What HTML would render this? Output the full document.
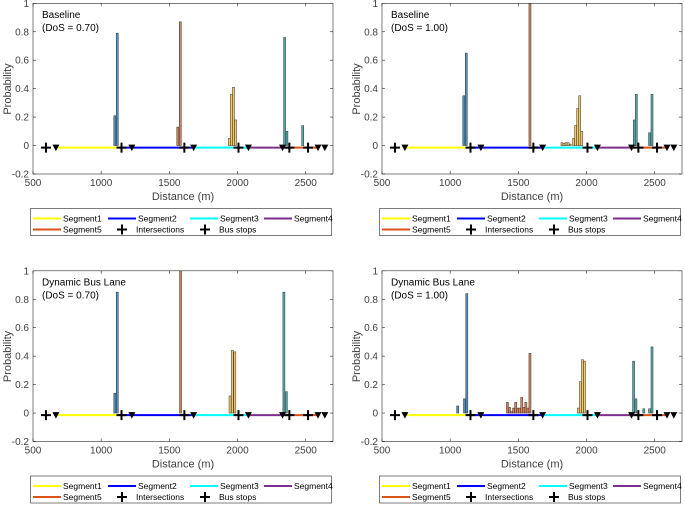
<!DOCTYPE html>
<html><head><meta charset="utf-8"><style>
html,body{margin:0;padding:0;background:#fff;}
svg{display:block;font-family:"Liberation Sans",Arial,sans-serif;}
</style></head><body>
<svg id="chart" width="685" height="506" viewBox="0 0 685 506"></svg>
<script>
const panelTitles = [["Baseline","(DoS = 0.70)"],["Baseline","(DoS = 1.00)"],["Dynamic Bus Lane","(DoS = 0.70)"],["Dynamic Bus Lane","(DoS = 1.00)"]];
const xTicks = [500,1000,1500,2000,2500];
const yTicks = [-0.2,0,0.2,0.4,0.6,0.8,1];
const yTickLabels = ["-0.2","0","0.2","0.4","0.6","0.8","1"];
const segStarts = [665,1150,1685,2065,2385];
const segEnds = [1150,1680,2065,2385,2600];
const segNames = ["Segment1","Segment2","Segment3","Segment4","Segment5"];
const intersections = [595,1149,1610,2007,2380,2517];
const busStops = [668,1225,1678,2080,2330,2590,2640];
const binWidth = 15;
// bars per panel: [center, probability, colorGroup]
const bars0 = [[1100,.21,0],[1118,.79,0],[1562,.13,1],[1580,.87,1],[1940,.05,2],[1955,.36,2],[1970,.41,2],[1985,.18,2],[2345,.76,3],[2362,.10,3],[2478,.14,3]];
const bars1 = [[1100,.35,0],[1118,.65,0],[1585,1.05,1],[1820,.02,2],[1835,.015,2],[1850,.02,2],[1865,.02,2],[1880,.01,2],[1905,.05,2],[1920,.14,2],[1935,.26,2],[1950,.35,2],[1965,.1,2],[2350,.18,3],[2365,.36,3],[2462,.09,3],[2480,.36,3]];
const bars2 = [[1100,.14,0],[1118,.85,0],[1582,1.05,1],[1945,.12,2],[1962,.44,2],[1980,.43,2],[2340,.85,3],[2358,.15,3]];
const bars3 = [[1055,.05,0],[1105,.10,0],[1122,.84,0],[1420,.075,1],[1435,.04,1],[1450,.01,1],[1465,.035,1],[1480,.075,1],[1495,.035,1],[1510,.035,1],[1525,.11,1],[1540,.04,1],[1555,.075,1],[1570,.035,1],[1585,.42,1],[1940,.035,2],[1955,.22,2],[1970,.375,2],[1985,.365,2],[2345,.365,3],[2362,.10,3],[2420,.03,3],[2462,.03,3],[2480,.465,3]];
const allBars = [bars0,bars1,bars2,bars3];
const barColors = ["#4f8fc2","#d7825a","#f2c964","#52a8a8"];
const segColors = ["#ffff00","#0000ff","#00ffff","#7e2f8e","#d95319"];

const NS="http://www.w3.org/2000/svg";
const svg=document.getElementById('chart');
function mk(tag,attrs,parent){const e=document.createElementNS(NS,tag);for(const k in attrs)e.setAttribute(k,attrs[k]);(parent||svg).appendChild(e);return e;}

const offsets=[[0,0],[349,0],[0,267.5],[349,267.5]];
const L=33,R=333,T=3.3,B=174;
offsets.forEach((off,p)=>{
  const ox=off[0],oy=off[1];
  const g=mk('g',{});
  
  
  const xs=v=>ox+L+(v-500)/(2700-500)*(R-L);
  const ys=v=>oy+B-(v+0.2)/1.2*(B-T);
  const clipId='clip'+p;
  const cp=mk('clipPath',{id:clipId},g);mk('rect',{x:ox+L,y:oy+T,width:R-L,height:B-T},cp);
  const plot=mk('g',{'clip-path':'url(#'+clipId+')'},g);
  allBars[p].forEach(b=>{
    const r=mk('rect',{x:xs(b[0]-binWidth/2),y:ys(b[1]),width:xs(b[0]+binWidth/2)-xs(b[0]-binWidth/2),height:ys(0)-ys(b[1]),fill:barColors[b[2]],stroke:'#333','stroke-width':0.5},plot);
    
    
  });
  segStarts.forEach((s,i)=>{
    const l=mk('line',{x1:xs(s),x2:xs(segEnds[i]),y1:ys(-0.015),y2:ys(-0.015),stroke:segColors[i],'stroke-width':2},plot);
    
    
  });
  busStops.forEach(v=>{
    const x=xs(v),y=ys(-0.015);
    const t=mk('polygon',{points:`${x-3.5},${y-3} ${x+3.5},${y-3} ${x},${y+3.5}`,fill:'#000'},plot);
    
    
  });
  intersections.forEach(v=>{
    const x=xs(v),y=ys(-0.015);
    const m=mk('path',{d:`M${x-5},${y}H${x+5}M${x},${y-5}V${y+5}`,stroke:'#000','stroke-width':2},plot);
    
    
  });
  const box=mk('rect',{x:ox+L,y:oy+T,width:R-L,height:B-T,fill:'none',stroke:'#262626','stroke-width':0.6},g);
  
  
  xTicks.forEach(v=>{
    const x=xs(v);
    mk('line',{x1:x,x2:x,y1:oy+B,y2:oy+B-3,stroke:'#262626','stroke-width':0.6},g);
    mk('line',{x1:x,x2:x,y1:oy+T,y2:oy+T+3,stroke:'#262626','stroke-width':0.6},g);
    const t=mk('text',{x:x,y:oy+B+12,'text-anchor':'middle','font-size':10,fill:'#404040'},g);
    t.textContent=v;
    
    
  });
  yTicks.forEach((v,i)=>{
    const y=ys(v);
    mk('line',{x1:ox+L,x2:ox+L+3,y1:y,y2:y,stroke:'#262626','stroke-width':0.6},g);
    mk('line',{x1:ox+R,x2:ox+R-3,y1:y,y2:y,stroke:'#262626','stroke-width':0.6},g);
    const t=mk('text',{x:ox+L-4,y:y+3.5,'text-anchor':'end','font-size':10,fill:'#404040'},g);
    t.textContent=yTickLabels[i];
    
    
  });
  const xt=mk('text',{x:ox+183,y:oy+200,'text-anchor':'middle','font-size':11,fill:'#404040'},g);
  xt.textContent='Distance (m)';
  
  
  const yt=mk('text',{x:0,y:0,'text-anchor':'middle','font-size':11,fill:'#404040',transform:`translate(${ox+11},${oy+89}) rotate(-90)`},g);
  yt.textContent='Probability';
  
  
  panelTitles[p].forEach((s,i)=>{
    const t=mk('text',{x:ox+42,y:oy+18+i*13,'font-size':10,fill:'#000'},g);
    t.textContent=s;
    
    
  });
  const lg=mk('g',{},g);
  
  
  mk('rect',{x:ox+30.5,y:oy+208.5,width:301,height:27,fill:'#fff',stroke:'#262626','stroke-width':0.6},lg);
  const r1=oy+218.5,r2=oy+229.5;
  const entries=[[33,r1,0],[108,r1,1],[190,r1,2],[264,r1,3],[33,r2,4]];
  entries.forEach(e=>{
    mk('line',{x1:ox+e[0],x2:ox+e[0]+28,y1:e[1],y2:e[1],stroke:segColors[e[2]],'stroke-width':2},lg);
    const t=mk('text',{x:ox+e[0]+30,y:e[1]+3,'font-size':8.5,fill:'#000'},lg);
    t.textContent=segNames[e[2]];
    
    
  });
  [[122,'Intersections'],[205,'Bus stops']].forEach(e=>{
    const x=ox+e[0],y=r2;
    mk('path',{d:`M${x-5},${y}H${x+5}M${x},${y-5}V${y+5}`,stroke:'#000','stroke-width':2},lg);
    const t=mk('text',{x:x+14,y:y+3,'font-size':8.5,fill:'#000'},lg);
    t.textContent=e[1];
    
    
  });
});
</script>
</body></html>
